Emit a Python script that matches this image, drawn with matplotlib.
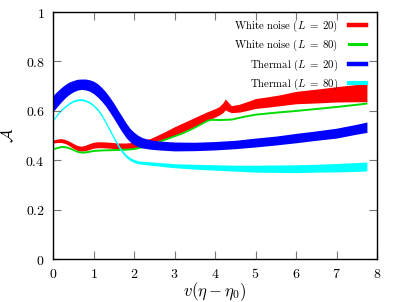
import numpy as np
import matplotlib
matplotlib.use('Agg')
import matplotlib.pyplot as plt
from matplotlib.lines import Line2D

plt.rcParams['mathtext.fontset'] = 'cm'
plt.rcParams['font.family'] = 'DejaVu Serif'

# White noise, L = 20: band centre and half-width
x_wn20 = [0, 0.1, 0.2, 0.3, 0.4, 0.5, 0.6, 0.7, 0.8, 0.9, 1.0, 1.1, 1.2, 1.4, 1.6, 1.8,
          2.0, 2.2, 2.4, 2.6, 2.8, 3.0, 3.2, 3.4, 3.6, 3.8, 4.0, 4.1, 4.2, 4.25, 4.3,
          4.4, 4.6, 4.8, 5.0, 5.3, 5.6, 6.0, 6.5, 7.0, 7.5, 7.75]
wn20_mid = [0.476, 0.479, 0.480, 0.476, 0.468, 0.458, 0.450, 0.447, 0.450, 0.456, 0.461,
            0.463, 0.463, 0.461, 0.458, 0.458, 0.461, 0.467, 0.475, 0.488, 0.503, 0.518,
            0.533, 0.548, 0.563, 0.578, 0.592, 0.600, 0.614, 0.626, 0.620, 0.607, 0.611,
            0.620, 0.630, 0.636, 0.643, 0.654, 0.660, 0.667, 0.672, 0.675]
wn20_hw = [0.006, 0.007, 0.008, 0.008, 0.009, 0.010, 0.010, 0.010, 0.011, 0.012, 0.012,
           0.012, 0.012, 0.012, 0.012, 0.012, 0.012, 0.013, 0.013, 0.015, 0.016, 0.018,
           0.018, 0.018, 0.018, 0.018, 0.017, 0.017, 0.020, 0.022, 0.020, 0.014, 0.016,
           0.018, 0.020, 0.021, 0.022, 0.025, 0.028, 0.031, 0.035, 0.038]

# White noise, L = 80: thin line
x_wn80 = [0, 0.1, 0.2, 0.3, 0.4, 0.5, 0.6, 0.7, 0.8, 0.9, 1.0, 1.2, 1.4, 1.6, 1.8, 2.0,
          2.2, 2.4, 2.6, 2.8, 3.0, 3.2, 3.4, 3.6, 3.8, 3.9, 4.1, 4.4, 4.7, 5.0, 5.5,
          6.0, 6.5, 7.0, 7.5, 7.75]
wn80_mid = [0.447, 0.452, 0.456, 0.455, 0.450, 0.443, 0.436, 0.433, 0.434, 0.437, 0.440,
            0.442, 0.443, 0.444, 0.445, 0.448, 0.455, 0.464, 0.476, 0.488, 0.500, 0.512,
            0.527, 0.544, 0.562, 0.566, 0.565, 0.567, 0.578, 0.587, 0.595, 0.602, 0.610,
            0.618, 0.627, 0.632]

# Thermal, L = 20: band centre and half-width
x_th20 = [0, 0.1, 0.2, 0.3, 0.4, 0.5, 0.6, 0.7, 0.8, 0.9, 1.0, 1.1, 1.2, 1.3, 1.4, 1.5,
          1.6, 1.7, 1.8, 1.9, 2.0, 2.1, 2.2, 2.4, 2.6, 2.8, 3.0, 3.5, 4.0, 4.5, 5.0,
          5.5, 6.0, 6.5, 7.0, 7.5, 7.75]
th20_mid = [0.630, 0.648, 0.665, 0.680, 0.692, 0.700, 0.706, 0.708, 0.707, 0.703, 0.695,
            0.683, 0.667, 0.648, 0.625, 0.600, 0.573, 0.547, 0.522, 0.502, 0.488, 0.478,
            0.471, 0.464, 0.460, 0.458, 0.456, 0.456, 0.459, 0.464, 0.472, 0.480, 0.490,
            0.500, 0.510, 0.526, 0.534]
th20_hw = [0.033, 0.031, 0.029, 0.027, 0.025, 0.023, 0.022, 0.021, 0.022, 0.023, 0.025,
           0.027, 0.028, 0.029, 0.030, 0.031, 0.031, 0.031, 0.030, 0.027, 0.025, 0.023,
           0.021, 0.019, 0.018, 0.018, 0.018, 0.017, 0.017, 0.017, 0.018, 0.018, 0.019,
           0.019, 0.020, 0.020, 0.021]

# Thermal, L = 80: band centre and half-width
x_th80 = [0, 0.1, 0.2, 0.3, 0.4, 0.5, 0.6, 0.7, 0.8, 0.9, 1.0, 1.1, 1.2, 1.3, 1.4, 1.5,
          1.6, 1.7, 1.8, 1.9, 2.0, 2.1, 2.2, 2.4, 2.6, 2.8, 3.0, 3.5, 4.0, 4.5, 5.0,
          5.5, 6.0, 6.5, 7.0, 7.5, 7.75]
th80_mid = [0.563, 0.585, 0.604, 0.618, 0.631, 0.640, 0.645, 0.646, 0.642, 0.634, 0.622,
            0.605, 0.582, 0.553, 0.522, 0.491, 0.462, 0.437, 0.418, 0.405, 0.397, 0.392,
            0.390, 0.387, 0.384, 0.381, 0.378, 0.374, 0.371, 0.368, 0.366, 0.366, 0.366,
            0.368, 0.370, 0.373, 0.375]
th80_hw = [0.004, 0.004, 0.004, 0.004, 0.004, 0.004, 0.004, 0.004, 0.004, 0.004, 0.004,
           0.005, 0.005, 0.006, 0.006, 0.006, 0.006, 0.006, 0.006, 0.006, 0.006, 0.006,
           0.006, 0.007, 0.007, 0.008, 0.008, 0.010, 0.011, 0.012, 0.014, 0.015, 0.016,
           0.016, 0.017, 0.018, 0.018]

labels = [r'$\mathrm{White\ noise}\ (L\;=\;20)$', r'$\mathrm{White\ noise}\ (L\;=\;80)$',
          r'$\mathrm{Thermal}\ (L\;=\;20)$', r'$\mathrm{Thermal}\ (L\;=\;80)$']
colors = ['#ff0000', '#00dd00', '#0000ff', '#00ffff']

fig = plt.figure(figsize=(3.99, 3.02), dpi=100)
ax = fig.add_axes([0.133, 0.142, 0.812, 0.818])

bands = [(x_wn20, wn20_mid, wn20_hw),
         (x_wn80, wn80_mid, [0.004] * len(wn80_mid)),
         (x_th20, th20_mid, th20_hw),
         (x_th80, th80_mid, th80_hw)]
for (x, mid, hw), c in zip(bands, colors):
    mid = np.array(mid)
    hw = np.array(hw)
    ax.fill_between(x, mid - hw, mid + hw, color=c, lw=0)

ax.set_xlim(0, 8)
ax.set_ylim(0, 1)
ax.set_xticks(range(9), [f'${i}$' for i in range(9)])
yt = [0, 0.2, 0.4, 0.6, 0.8, 1]
ax.set_yticks(yt, [f'${v:g}$' for v in yt])
ax.tick_params(direction='in', top=True, right=True, length=6, width=0.8,
               color='#777777', labelsize=10, pad=6)
for s in ax.spines.values():
    s.set_linewidth(1.0)

ax.set_xlabel(r'$v(\eta-\eta_0)$', fontsize=12, labelpad=-1)
ax.set_ylabel(r'$\mathcal{A}$', fontsize=12, labelpad=6)

handles = [Line2D([], [], color=colors[0], lw=3.2),
           Line2D([], [], color=colors[1], lw=2.2),
           Line2D([], [], color=colors[2], lw=3.2),
           Line2D([], [], color=colors[3], lw=3.0)]
ax.legend(handles, labels, loc='upper right', bbox_to_anchor=(0.965, 0.975),
          frameon=False, markerfirst=False, fontsize=7.8, handlelength=1.55,
          handletextpad=1.0, labelspacing=0.4, borderpad=0, borderaxespad=0)

fig.savefig('out.png', dpi=100)
